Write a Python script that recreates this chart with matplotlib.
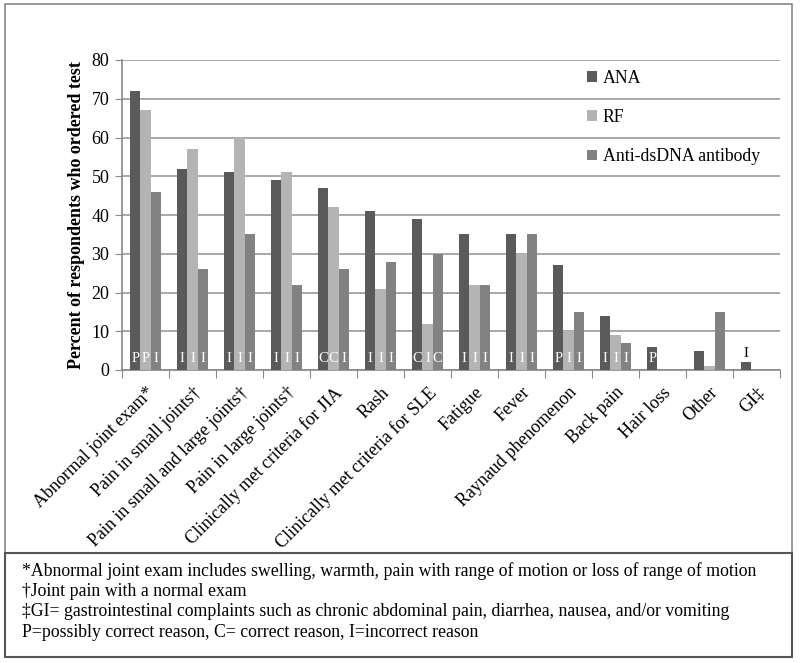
import numpy as np
import matplotlib.pyplot as plt
from matplotlib.patches import Rectangle

plt.rcParams["font.family"] = ["Liberation Serif", "DejaVu Serif"]

categories = [
    "Abnormal joint exam*",
    "Pain in small joints\u2020",
    "Pain in small and large joints\u2020",
    "Pain in large joints\u2020",
    "Clinically met criteria for JIA",
    "Rash",
    "Clinically met criteria for SLE",
    "Fatigue",
    "Fever",
    "Raynaud phenomenon",
    "Back pain",
    "Hair loss",
    "Other",
    "GI\u2021",
]
ana = [72, 52, 51, 49, 47, 41, 39, 35, 35, 27, 14, 6, 5, 2]
rf = [67, 57, 60, 51, 42, 21, 12, 22, 30, 10, 9, 0, 1, 0]
dsdna = [46, 26, 35, 22, 26, 28, 30, 22, 35, 15, 7, 0, 15, 0]

ana_codes = ["P", "I", "I", "I", "C", "I", "C", "I", "I", "P", "I", "P", "", "I"]
rf_codes = ["P", "I", "I", "I", "C", "I", "I", "I", "I", "I", "I", "", "", ""]
dsdna_codes = ["I", "I", "I", "I", "I", "I", "C", "I", "I", "I", "I", "", "", ""]

footnotes = [
    "*Abnormal joint exam includes swelling, warmth, pain with range of motion or loss of range of motion",
    "\u2020Joint pain with a normal exam",
    "\u2021GI= gastrointestinal complaints such as chronic abdominal pain, diarrhea, nausea, and/or vomiting",
    "P=possibly correct reason, C= correct reason, I=incorrect reason",
]

colors = ["#5a5a5a", "#b4b4b4", "#828282"]
names = ["ANA", "RF", "Anti-dsDNA antibody"]

fig = plt.figure(figsize=(8, 6.63), dpi=100)
ax = fig.add_axes([122 / 800, 1 - 370 / 663, 658 / 800, 310 / 663])

x = np.arange(len(categories))
w = 0.215
series = [ana, rf, dsdna]
codes = [ana_codes, rf_codes, dsdna_codes]
for i, (vals, cds) in enumerate(zip(series, codes)):
    xs = x + (i - 1) * w
    ax.bar(xs, vals, width=w, color=colors[i], label=names[i], zorder=3)
    for xi, v, c in zip(xs, vals, cds):
        if not c:
            continue
        if v >= 4:
            ax.text(xi, 3, c, color="white", ha="center", va="center",
                    fontsize=10.5, zorder=4)
        else:
            ax.text(xi, v + 0.6, c, color="black", ha="center", va="bottom",
                    fontsize=10.5, zorder=4)

ax.set_xlim(-0.5, len(categories) - 0.5)
ax.set_ylim(0, 80)
ax.set_yticks(range(0, 81, 10))
ax.tick_params(axis="y", labelsize=13, length=5, color="#888888", pad=4)
ax.yaxis.grid(True, color="#999999", linewidth=1.2, zorder=0)

ax.set_xticks(np.arange(len(categories) + 1) - 0.5)
ax.set_xticklabels([])
ax.tick_params(axis="x", which="major", length=6, color="#888888")
ax.set_xticks(x, minor=True)
ax.set_xticklabels(categories, minor=True, rotation=45, ha="right",
                   rotation_mode="anchor", fontsize=13)
ax.tick_params(axis="x", which="minor", length=0, pad=10)

for s in ["top", "right"]:
    ax.spines[s].set_visible(False)
for s in ["left", "bottom"]:
    ax.spines[s].set_color("#888888")
    ax.spines[s].set_linewidth(1.2)

ax.set_ylabel("Percent of respondents who ordered test", fontsize=13,
              fontweight="bold", labelpad=5)

ax.legend(loc="upper left", bbox_to_anchor=(0.682, 1.02), frameon=False,
          fontsize=12.8, handlelength=0.55, handleheight=0.55,
          handletextpad=0.35, labelspacing=1.25)

# outer frames
fig.add_artist(Rectangle((5 / 800, 1 - 553 / 663), 787 / 800, 549 / 663,
                         transform=fig.transFigure, fill=False,
                         edgecolor="#888888", linewidth=1.2))
fig.add_artist(Rectangle((5 / 800, 1 - 657 / 663), 787 / 800, 104 / 663,
                         transform=fig.transFigure, fill=False,
                         edgecolor="#555555", linewidth=1.5))

for k, line in enumerate(footnotes):
    fig.text(22 / 800, 1 - (571 + k * 20.5) / 663, line, fontsize=12.8,
             va="center", ha="left")

fig.savefig("out.png", dpi=100)
